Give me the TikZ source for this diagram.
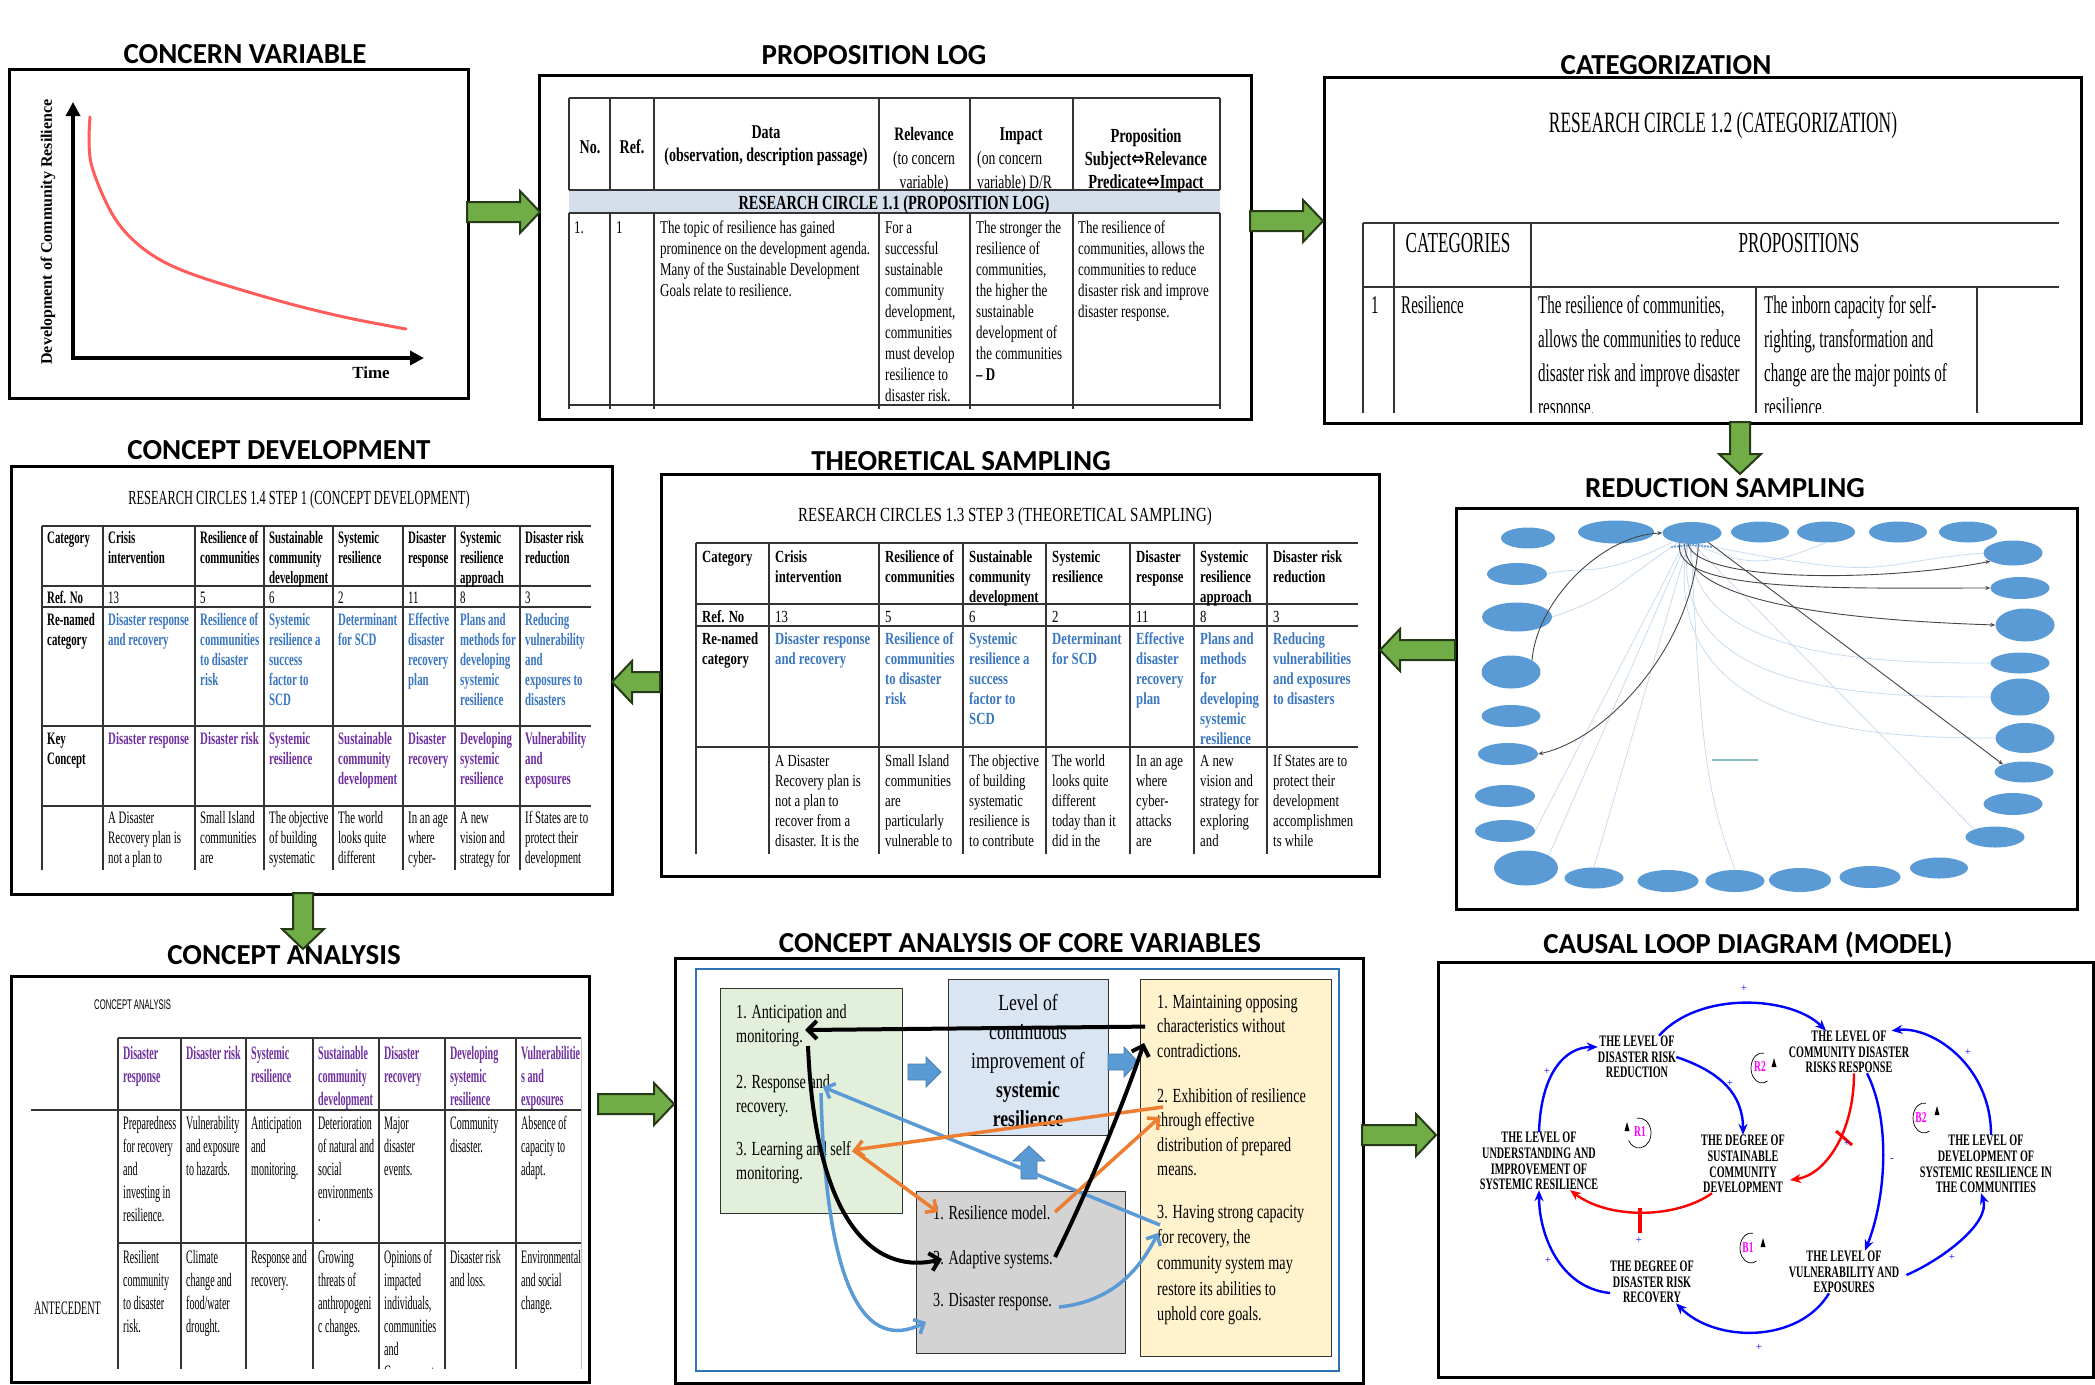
\documentclass[tikz,border=0pt]{standalone}
\usepackage{fontspec}
\usetikzlibrary{arrows.meta,calc,shapes.geometric}
\setmainfont{Liberation Serif}
\newfontfamily\ttlfont{Carlito}
\newfontfamily\srfA[FakeStretch=0.72]{Liberation Serif}
\newfontfamily\srfB[FakeStretch=0.59]{Liberation Serif}
\newfontfamily\srfC[FakeStretch=0.62]{Liberation Serif}
\newfontfamily\srfD[FakeStretch=0.75]{Liberation Serif}
\newfontfamily\srfE[FakeStretch=0.53]{Liberation Serif}
\newfontfamily\srfF[FakeStretch=0.71]{Liberation Serif}
\newfontfamily\srfFF[FakeStretch=0.77]{Liberation Serif}
\newfontfamily\srfG[FakeStretch=0.635]{Liberation Serif}
\newfontfamily\sanN[FakeStretch=0.55]{Liberation Sans}
\newfontfamily\symfont[FakeStretch=0.8]{DejaVu Sans}

\definecolor{gfill}{HTML}{70AD47}
\definecolor{gline}{HTML}{263A17}
\definecolor{tline}{HTML}{333333}
\definecolor{bannerc}{HTML}{D5DFEC}
\definecolor{rblue}{HTML}{3A77C0}
\definecolor{rpurple}{HTML}{7030A0}
\definecolor{ellc}{HTML}{5B9BD5}
\definecolor{faintc}{HTML}{C9DCEF}
\definecolor{linkc}{HTML}{464646}
\definecolor{tealc}{HTML}{8CBEBE}
\definecolor{curvec}{HTML}{FF5C5C}
\definecolor{bxgreen}{HTML}{E2EFDA}
\definecolor{bxblue}{HTML}{DAE5F4}
\definecolor{bxgray}{HTML}{D3D3D3}
\definecolor{bxyellow}{HTML}{FFF2CC}
\definecolor{oarrow}{HTML}{ED7D31}
\definecolor{larrow}{HTML}{5B9BD5}
\definecolor{innerf}{HTML}{2E74B5}
\definecolor{cldblue}{HTML}{0000FF}
\definecolor{cldred}{HTML}{FF0000}
\definecolor{cldmag}{HTML}{FF00FF}

% one-column stacks of lines, baseline at the first line
\newcommand\mlines[1]{\begin{tabular}[t]{@{}l@{}}#1\end{tabular}}
\newcommand\clines[1]{\begin{tabular}[t]{@{}c@{}}#1\end{tabular}}
% block arrow: style, tail, tip, shaft half width, head half width, head length
\newcommand\blockarrow[6]{%
  \coordinate (bah) at ($(#3)!#6!(#2)$);
  \filldraw[#1] ($(#2)!#4!90:(#3)$) -- ($(bah)!#4!-90:(#2)$) -- ($(bah)!#5!-90:(#2)$) -- (#3)
    -- ($(bah)!#5!90:(#2)$) -- ($(bah)!#4!90:(#2)$) -- ($(#2)!#4!-90:(#3)$) -- cycle;}

\begin{document}
\begin{tikzpicture}[x=1pt,y=-1pt,
  panelbox/.style={draw=black, line width=3pt, anchor=north west, inner sep=0pt},
  ttl/.style={font=\ttlfont\bfseries\fontsize{29}{32}\selectfont, inner sep=0pt},
  garrow/.style={fill=gfill, draw=gline, line width=2pt, line join=miter},
  barrow/.style={fill=larrow, draw=larrow!80!black, line width=0.8pt},
  tbl/.style={draw=tline, line width=1.3pt},
  cell/.style={anchor=base west, inner sep=0pt},
  ccell/.style={anchor=base, inner sep=0pt},
  fA/.style={font=\srfA\fontsize{18}{21}\selectfont},
  fAb/.style={font=\srfA\bfseries\fontsize{19.5}{21}\selectfont},
  fAh/.style={font=\srfA\fontsize{19}{24}\selectfont},
  fB/.style={font=\srfB\fontsize{25.5}{34}\selectfont},
  fBh/.style={font=\srfB\fontsize{29}{34}\selectfont},
  fC/.style={font=\srfC\fontsize{17.5}{20}\selectfont},
  fCb/.style={font=\srfC\bfseries\fontsize{17.5}{20}\selectfont},
  fD/.style={font=\srfD\fontsize{17}{20}\selectfont},
  fDb/.style={font=\srfD\bfseries\fontsize{17}{20}\selectfont},
  fE/.style={font=\srfE\fontsize{19}{23}\selectfont},
  fEb/.style={font=\srfE\bfseries\fontsize{19}{23}\selectfont},
  fF/.style={font=\srfF\fontsize{20}{24.5}\selectfont},
  ell/.style={ellipse, fill=ellc, draw=none, inner sep=0pt},
  faint/.style={draw=faintc, line width=0.8pt},
  rsarr/.style={draw=linkc, line width=0.9pt, -{Stealth[length=5pt,width=4pt]}},
  blk/.style={draw=black, line width=4pt, -{Straight Barb[length=9pt,width=18pt]}},
  org/.style={draw=oarrow, line width=3.5pt, -{Straight Barb[length=8pt,width=16pt]}},
  lbl/.style={draw=larrow, line width=3.5pt, -{Straight Barb[length=8pt,width=16pt]}},
  cldn/.style={align=center, inner sep=0pt, font=\srfG\bfseries\fontsize{16}{15.7}\selectfont},
  clink/.style={draw=cldblue, line width=2.4pt, -{Stealth[length=11pt,width=9pt]}},
  rlink/.style={draw=cldred, line width=2.4pt, -{Stealth[length=11pt,width=9pt]}},
  pls/.style={text=cldblue, inner sep=0pt, font=\fontsize{11}{11}\selectfont},
  loopl/.style={text=cldmag, inner sep=0pt, font=\srfG\bfseries\fontsize{15}{15}\selectfont},
  loopc/.style={draw=black, line width=0.7pt}
]
\useasboundingbox (0,0) rectangle (2095,1384);
\fill[white] (0,0) rectangle (2095,1384);

%================ CONCERN VARIABLE
\node[panelbox, minimum width=459pt, minimum height=329pt] (p1) at (8,68) {};
\node[ttl] (t1) at (245,54) {CONCERN VARIABLE};
\coordinate (ytop) at (73,102);
\coordinate (orig) at (73,358);
\coordinate (xend) at (424,358);
\draw[line width=4pt, {Triangle[length=14pt,width=14pt]}-{Triangle[length=14pt,width=14pt]}] (ytop) -- (orig) -- (xend);
\draw[curvec, line width=3pt, line cap=round] plot[smooth, tension=0.55] coordinates
  {(90,117) (91,163) (114,217) (145,250) (189,273) (276,300) (344,317) (406,329)};
\node[rotate=90, inner sep=0pt, font=\bfseries\fontsize{16}{18}\selectfont] (ylab) at (48,232) {Development of Community Resilience};
\node[inner sep=0pt, font=\bfseries\fontsize{17}{19}\selectfont] (xlab) at (371,373) {Time};

%================ PROPOSITION LOG
\node[panelbox, minimum width=712pt, minimum height=344pt] (p2) at (538,74) {};
\node[ttl] (t2) at (874,55) {PROPOSITION LOG};
\fill[bannerc] (569,190) rectangle (1220,213);
\draw[tbl] (569,98) -- (1220,98) (569,190) -- (1220,190) (569,213) -- (1220,213) (569,405) -- (1220,405);
\foreach \x in {569,610,654,879,970,1073,1220} {\draw[tbl] (\x,98) -- (\x,190) (\x,213) -- (\x,409);}
\node[ccell,fAb] (h21) at (590,153) {No.};
\node[ccell,fAb] (h22) at (632,153) {Ref.};
\node[ccell,fAb] (h23) at (766,138) {Data};
\node[ccell,fAb] (h23b) at (766,161) {(observation, description passage)};
\node[ccell,fAh] (h24) at (924,140) {\clines{\textbf{Relevance}\\(to concern\\variable)}};
\node[ccell,fAb] (h25) at (1021,140) {Impact};
\node[cell,fAh] (h25b) at (977,164) {\mlines{(on concern\\variable) D/R}};
\node[ccell,font=\srfA\bfseries\fontsize{20}{23}\selectfont] (h26) at (1146,142)
  {\clines{Proposition\\Subject{\symfont ⇔}Relevance\\Predicate{\symfont ⇔}Impact}};
\node[ccell,font=\srfA\bfseries\fontsize{20}{22}\selectfont] (ban) at (894,209) {RESEARCH CIRCLE 1.1 (PROPOSITION LOG)};
\node[cell,fA] (d21) at (574,233) {1.};
\node[cell,fA] (d22) at (616,233) {1};
\node[cell,fA] (d23) at (660,233) {\mlines{The topic of resilience has gained\\prominence on the development agenda.\\Many of the Sustainable Development\\Goals relate to resilience.}};
\node[cell,fA] (d24) at (885,233) {\mlines{For a\\successful\\sustainable\\community\\development,\\communities\\must develop\\resilience to\\disaster risk.}};
\node[cell,fA] (d25) at (976,233) {\mlines{The stronger the\\resilience of\\communities,\\the higher the\\sustainable\\development of\\the communities\\\textbf{– D}}};
\node[cell,fA] (d26) at (1078,233) {\mlines{The resilience of\\communities, allows the\\communities to reduce\\disaster risk and improve\\disaster response.}};

%================ CATEGORIZATION
\node[panelbox, minimum width=757pt, minimum height=346pt] (p3) at (1323,76) {};
\node[ttl] (t3) at (1666,65) {CATEGORIZATION};
\node[ccell,font=\srfB\fontsize{29.5}{32}\selectfont] (h31) at (1723,132) {RESEARCH CIRCLE 1.2 (CATEGORIZATION)};
\begin{scope}
\clip (1330,200) rectangle (2075,412);
\draw[tbl] (1363,223) -- (2059,223) (1363,287) -- (2059,287);
\draw[tbl] (1363,223) -- (1363,420) (1394,223) -- (1394,420) (1531,223) -- (1531,420)
  (1756,287) -- (1756,420) (1977,287) -- (1977,420);
\node[ccell,fBh] (h32) at (1458,252) {CATEGORIES};
\node[ccell,fBh] (h33) at (1799,252) {PROPOSITIONS};
\node[cell,fB] (d31) at (1371,313) {1};
\node[cell,fB] (d32) at (1401,313) {Resilience};
\node[cell,fB] (d33) at (1538,313) {\mlines{The resilience of communities,\\allows the communities to reduce\\disaster risk and improve disaster\\response.}};
\node[cell,fB] (d34) at (1764,313) {\mlines{The inborn capacity for self-\\righting, transformation and\\change are the major points of\\resilience.}};
\end{scope}

%================ REDUCTION SAMPLING
\node[panelbox, minimum width=621pt, minimum height=401pt] (p6) at (1455,507) {};
\node[ttl] (t6) at (1725,488) {REDUCTION SAMPLING};
\node[ell, minimum width=54pt, minimum height=21pt] (e1) at (1528,538) {};
\node[ell, minimum width=76pt, minimum height=23pt] (e2) at (1616,532) {};
\node[ell, minimum width=59pt, minimum height=22pt] (e3) at (1692,533) {};
\node[ell, minimum width=58pt, minimum height=21pt] (e4) at (1760,532) {};
\node[ell, minimum width=58pt, minimum height=21pt] (e5) at (1826,532) {};
\node[ell, minimum width=58pt, minimum height=21pt] (e6) at (1898,532) {};
\node[ell, minimum width=58pt, minimum height=21pt] (e7) at (1968,532) {};
\node[ell, minimum width=59pt, minimum height=25pt] (e8) at (2013,553) {};
\node[ell, minimum width=59pt, minimum height=22pt] (e9) at (2020,588) {};
\node[ell, minimum width=59pt, minimum height=33pt] (e10) at (2025,625) {};
\node[ell, minimum width=59pt, minimum height=21pt] (e11) at (2020,663) {};
\node[ell, minimum width=59pt, minimum height=37pt] (e12) at (2020,697) {};
\node[ell, minimum width=59pt, minimum height=30pt] (e13) at (2025,738) {};
\node[ell, minimum width=59pt, minimum height=21pt] (e14) at (2024,772) {};
\node[ell, minimum width=59pt, minimum height=22pt] (e15) at (2013,804) {};
\node[ell, minimum width=59pt, minimum height=21pt] (e16) at (1995,837) {};
\node[ell, minimum width=58pt, minimum height=21pt] (e17) at (1939,868) {};
\node[ell, minimum width=61pt, minimum height=22pt] (e18) at (1870,877) {};
\node[ell, minimum width=62pt, minimum height=24pt] (e19) at (1800,880) {};
\node[ell, minimum width=59pt, minimum height=22pt] (e20) at (1735,881) {};
\node[ell, minimum width=61pt, minimum height=22pt] (e21) at (1668,881) {};
\node[ell, minimum width=59pt, minimum height=21pt] (e22) at (1594,878) {};
\node[ell, minimum width=64pt, minimum height=35pt] (e23) at (1526,868) {};
\node[ell, minimum width=60pt, minimum height=22pt] (e24) at (1505,831) {};
\node[ell, minimum width=60pt, minimum height=22pt] (e25) at (1505,796) {};
\node[ell, minimum width=60pt, minimum height=22pt] (e26) at (1508,754) {};
\node[ell, minimum width=59pt, minimum height=22pt] (e27) at (1511,716) {};
\node[ell, minimum width=59pt, minimum height=33pt] (e28) at (1511,672) {};
\node[ell, minimum width=70pt, minimum height=29pt] (e29) at (1517,617) {};
\node[ell, minimum width=60pt, minimum height=22pt] (e30) at (1517,574) {};
\draw[faint] (e3.260) .. controls +(0,120) and +(-90,0) .. (e11.west);
\draw[faint] (e3.250) .. controls +(-20,150) and +(-120,0) .. (e12.west);
\draw[faint] (e3.245) .. controls +(-30,190) and +(-110,0) .. (e13.west);
\draw[faint] (e3.275) -- (e16.north west);
\draw[faint] (e3.240) -- (e23.north east);
\draw[faint] (e3.250) -- (e22.north);
\draw[faint] (e3.232) -- (e24.east);
\draw[faint] (e3.205) .. controls +(-80,40) and +(40,-10) .. (e30.east);
\draw[faint] (e3.215) .. controls +(-60,40) and +(60,-20) .. (e29.east);
\draw[faint] (e3.290) .. controls +(60,30) and +(-40,15) .. (e5.south);
\draw[faint] (e3.300) .. controls +(200,40) and +(-120,10) .. (e8.west);
\draw[faint] (e3.265) .. controls +(10,200) and +(-30,-80) .. (e20.north);
\draw[rsarr, {Stealth[length=5pt,width=4pt]}-] (e3.west) .. controls +(-60,2) and +(5,-60) .. (e28.north east);
\draw[rsarr] (e3.300) .. controls +(-5,100) and +(70,-15) .. (e26.east);
\draw[rsarr] (e3.250) .. controls +(10,40) and +(-100,20) .. (e8.200);
\draw[rsarr] (e3.220) .. controls +(-10,50) and +(-150,0) .. (e9.west);
\draw[rsarr] (e3.235) .. controls +(0,60) and +(-150,-5) .. (e10.west);
\draw[rsarr] (e3.330) -- (e14.north west);
\foreach \i in {0,...,13} {\fill[ellc] ({1672+\i*3},{545+0.3*abs(\i-6.5)}) circle (1.2pt);}
\draw[draw=tealc, line width=2pt] (1712,760) -- (1758,760);

%================ THEORETICAL SAMPLING
\node[panelbox, minimum width=718pt, minimum height=402pt] (p5) at (660,473) {};
\node[ttl] (t5) at (961,461) {THEORETICAL SAMPLING};
\node[ccell,font=\srfD\fontsize{20}{22}\selectfont] (h51) at (1005,521) {RESEARCH CIRCLES 1.3 STEP 3 (THEORETICAL SAMPLING)};
\begin{scope}
\clip (670,530) rectangle (1370,853);
\draw[tbl] (696,543) -- (1358,543) (696,604) -- (1358,604) (696,626) -- (1358,626) (696,747) -- (1358,747);
\foreach \x in {696,769,879,963,1046,1130,1194,1267} {\draw[tbl] (\x,543) -- (\x,860);}
\node[cell,fDb] at (702,562) {Category};
\node[cell,fDb] at (775,562) {\mlines{Crisis\\intervention}};
\node[cell,fDb] at (885,562) {\mlines{Resilience of\\communities}};
\node[cell,fDb] at (969,562) {\mlines{Sustainable\\community\\development}};
\node[cell,fDb] at (1052,562) {\mlines{Systemic\\resilience}};
\node[cell,fDb] at (1136,562) {\mlines{Disaster\\response}};
\node[cell,fDb] at (1200,562) {\mlines{Systemic\\resilience\\approach}};
\node[cell,fDb] at (1273,562) {\mlines{Disaster risk\\reduction}};
\node[cell,fDb] at (702,622) {Ref. No};
\node[cell,fD] at (775,622) {13};
\node[cell,fD] at (885,622) {5};
\node[cell,fD] at (969,622) {6};
\node[cell,fD] at (1052,622) {2};
\node[cell,fD] at (1136,622) {11};
\node[cell,fD] at (1200,622) {8};
\node[cell,fD] at (1273,622) {3};
\node[cell,fDb] at (702,644) {\mlines{Re-named\\category}};
\begin{scope}[every node/.append style={text=rblue}]
\node[cell,fDb] at (775,644) {\mlines{Disaster response\\and recovery}};
\node[cell,fDb] at (885,644) {\mlines{Resilience of\\communities\\to disaster\\risk}};
\node[cell,fDb] at (969,644) {\mlines{Systemic\\resilience a\\success\\factor to\\SCD}};
\node[cell,fDb] at (1052,644) {\mlines{Determinant\\for SCD}};
\node[cell,fDb] at (1136,644) {\mlines{Effective\\disaster\\recovery\\plan}};
\node[cell,fDb] at (1200,644) {\mlines{Plans and\\methods\\for\\developing\\systemic\\resilience}};
\node[cell,fDb] at (1273,644) {\mlines{Reducing\\vulnerabilities\\and exposures\\to disasters}};
\end{scope}
\node[cell,fD] at (775,766) {\mlines{A Disaster\\Recovery plan is\\not a plan to\\recover from a\\disaster. It is the\\plan that allows}};
\node[cell,fD] at (885,766) {\mlines{Small Island\\communities\\are\\particularly\\vulnerable to\\the impacts of}};
\node[cell,fD] at (969,766) {\mlines{The objective\\of building\\systematic\\resilience is\\to contribute\\to the long}};
\node[cell,fD] at (1052,766) {\mlines{The world\\looks quite\\different\\today than it\\did in the\\recent past}};
\node[cell,fD] at (1136,766) {\mlines{In an age\\where\\cyber-\\attacks\\are\\rapidly}};
\node[cell,fD] at (1200,766) {\mlines{A new\\vision and\\strategy for\\exploring\\and\\developing}};
\node[cell,fD] at (1273,766) {\mlines{If States are to\\protect their\\development\\accomplishmen\\ts while\\moving ahead}};
\end{scope}

%================ CONCEPT DEVELOPMENT
\node[panelbox, minimum width=601pt, minimum height=428pt] (p4) at (10,465) {};
\node[ttl] (t4) at (279,450) {CONCEPT DEVELOPMENT};
\node[ccell,font=\srfC\fontsize{20}{22}\selectfont] (h41) at (299,504) {RESEARCH CIRCLES 1.4 STEP 1 (CONCEPT DEVELOPMENT)};
\begin{scope}
\clip (20,515) rectangle (605,869);
\draw[tbl] (42,526) -- (591,526) (42,586) -- (591,586) (42,607) -- (591,607) (42,726) -- (591,726) (42,806) -- (591,806);
\foreach \x in {42,103,195,264,333,403,455,520} {\draw[tbl] (\x,526) -- (\x,875);}
\node[cell,fCb] at (47,543) {Category};
\node[cell,fCb] at (108,543) {\mlines{Crisis\\intervention}};
\node[cell,fCb] at (200,543) {\mlines{Resilience of\\communities}};
\node[cell,fCb] at (269,543) {\mlines{Sustainable\\community\\development}};
\node[cell,fCb] at (338,543) {\mlines{Systemic\\resilience}};
\node[cell,fCb] at (408,543) {\mlines{Disaster\\response}};
\node[cell,fCb] at (460,543) {\mlines{Systemic\\resilience\\approach}};
\node[cell,fCb] at (525,543) {\mlines{Disaster risk\\reduction}};
\node[cell,fCb] at (47,603) {Ref. No};
\node[cell,fC] at (108,603) {13};
\node[cell,fC] at (200,603) {5};
\node[cell,fC] at (269,603) {6};
\node[cell,fC] at (338,603) {2};
\node[cell,fC] at (408,603) {11};
\node[cell,fC] at (460,603) {8};
\node[cell,fC] at (525,603) {3};
\node[cell,fCb] at (47,625) {\mlines{Re-named\\category}};
\begin{scope}[every node/.append style={text=rblue}]
\node[cell,fCb] at (108,625) {\mlines{Disaster response\\and recovery}};
\node[cell,fCb] at (200,625) {\mlines{Resilience of\\communities\\to disaster\\risk}};
\node[cell,fCb] at (269,625) {\mlines{Systemic\\resilience a\\success\\factor to\\SCD}};
\node[cell,fCb] at (338,625) {\mlines{Determinant\\for SCD}};
\node[cell,fCb] at (408,625) {\mlines{Effective\\disaster\\recovery\\plan}};
\node[cell,fCb] at (460,625) {\mlines{Plans and\\methods for\\developing\\systemic\\resilience}};
\node[cell,fCb] at (525,625) {\mlines{Reducing\\vulnerability\\and\\exposures to\\disasters}};
\end{scope}
\node[cell,fCb] at (47,744) {\mlines{Key\\Concept}};
\begin{scope}[every node/.append style={text=rpurple}]
\node[cell,fCb] at (108,744) {Disaster response};
\node[cell,fCb] at (200,744) {Disaster risk};
\node[cell,fCb] at (269,744) {\mlines{Systemic\\resilience}};
\node[cell,fCb] at (338,744) {\mlines{Sustainable\\community\\development}};
\node[cell,fCb] at (408,744) {\mlines{Disaster\\recovery}};
\node[cell,fCb] at (460,744) {\mlines{Developing\\systemic\\resilience}};
\node[cell,fCb] at (525,744) {\mlines{Vulnerability\\and\\exposures}};
\end{scope}
\node[cell,fC] at (108,823) {\mlines{A Disaster\\Recovery plan is\\not a plan to\\recover}};
\node[cell,fC] at (200,823) {\mlines{Small Island\\communities\\are\\particularly}};
\node[cell,fC] at (269,823) {\mlines{The objective\\of building\\systematic\\resilience}};
\node[cell,fC] at (338,823) {\mlines{The world\\looks quite\\different\\today}};
\node[cell,fC] at (408,823) {\mlines{In an age\\where\\cyber-\\attacks}};
\node[cell,fC] at (460,823) {\mlines{A new\\vision and\\strategy for\\exploring}};
\node[cell,fC] at (525,823) {\mlines{If States are to\\protect their\\development\\accomplish}};
\end{scope}

%================ CONCEPT ANALYSIS
\node[panelbox, minimum width=578pt, minimum height=406pt] (p7) at (10,975) {};
\node[ttl] (t7) at (284,955) {CONCEPT ANALYSIS};
\node[anchor=west, inner sep=0pt, font=\sanN\fontsize{14}{16}\selectfont] (h71) at (94,1005) {CONCEPT ANALYSIS};
\begin{scope}
\clip (20,1030) rectangle (585,1368);
\draw[tbl] (118,1038) -- (581,1038) (31,1110) -- (581,1110) (118,1243) -- (581,1243);
\foreach \x in {118,181,246,313,379,445,516} {\draw[tbl] (\x,1038) -- (\x,1375);}
\draw[draw=black!25, line width=1pt] (581,1038) -- (581,1375);
\begin{scope}[every node/.append style={text=rpurple}]
\node[cell,fEb] at (123,1059) {\mlines{Disaster\\response}};
\node[cell,fEb] at (186,1059) {Disaster risk};
\node[cell,fEb] at (251,1059) {\mlines{Systemic\\resilience}};
\node[cell,fEb] at (318,1059) {\mlines{Sustainable\\community\\development}};
\node[cell,fEb] at (384,1059) {\mlines{Disaster\\recovery}};
\node[cell,fEb] at (450,1059) {\mlines{Developing\\systemic\\resilience}};
\node[cell,fEb] at (521,1059) {\mlines{Vulnerabilitie\\s and\\exposures}};
\end{scope}
\node[cell,fE] at (123,1129) {\mlines{Preparedness\\for recovery\\and\\investing in\\resilience.}};
\node[cell,fE] at (186,1129) {\mlines{Vulnerability\\and exposure\\to hazards.}};
\node[cell,fE] at (251,1129) {\mlines{Anticipation\\and\\monitoring.}};
\node[cell,fE] at (318,1129) {\mlines{Deterioration\\of natural and\\social\\environments\\.}};
\node[cell,fE] at (384,1129) {\mlines{Major\\disaster\\events.}};
\node[cell,fE] at (450,1129) {\mlines{Community\\disaster.}};
\node[cell,fE] at (521,1129) {\mlines{Absence of\\capacity to\\adapt.}};
\node[cell,fE] at (123,1263) {\mlines{Resilient\\community\\to disaster\\risk.}};
\node[cell,fE] at (186,1263) {\mlines{Climate\\change and\\food/water\\drought.}};
\node[cell,fE] at (251,1263) {\mlines{Response and\\recovery.}};
\node[cell,fE] at (318,1263) {\mlines{Growing\\threats of\\anthropogeni\\c changes.}};
\node[cell,fE] at (384,1263) {\mlines{Opinions of\\impacted\\individuals,\\communities\\and\\Government}};
\node[cell,fE] at (450,1263) {\mlines{Disaster risk\\and loss.}};
\node[cell,fE] at (521,1263) {\mlines{Environmental\\and social\\change.}};
\node[cell,fE] at (34,1314) {ANTECEDENT};
\end{scope}

%================ CONCEPT ANALYSIS OF CORE VARIABLES
\node[panelbox, minimum width=688pt, minimum height=425pt] (p8) at (674,957) {};
\node[ttl] (t8) at (1020,943) {CONCEPT ANALYSIS OF CORE VARIABLES};
\draw[innerf, line width=2.5pt] (696,969) rectangle (1339,1371);
\node[anchor=north west, draw=black!80, line width=1pt, fill=bxgreen, minimum width=182pt, minimum height=225pt] (gb) at (720,988) {};
\node[anchor=north west, draw=black!80, line width=1pt, fill=bxblue, minimum width=160pt, minimum height=156pt] (bb) at (948,979) {};
\node[anchor=north west, draw=black!80, line width=1pt, fill=bxgray, minimum width=209pt, minimum height=162pt] (rb) at (916,1191) {};
\node[anchor=north west, draw=black!80, line width=1pt, fill=bxyellow, minimum width=191pt, minimum height=377pt] (yb) at (1140,979) {};
\node[cell,fF] (gt1) at (736,1018) {\mlines{1. Anticipation and\\monitoring.}};
\node[cell,fF] (gt2) at (736,1088) {\mlines{2. Response and\\recovery.}};
\node[cell,fF] (gt3) at (736,1155) {\mlines{3. Learning and self\\monitoring.}};
\node[ccell,font=\srfFF\fontsize{23}{29}\selectfont] (bt) at (1028,1010) {\clines{Level of\\continuous\\improvement of\\\textbf{systemic}\\\textbf{resilience}}};
\node[cell,fF] (yt1) at (1157,1008) {\mlines{1. Maintaining opposing\\characteristics without\\contradictions.}};
\node[cell,fF] (yt2) at (1157,1102) {\mlines{2. Exhibition of resilience\\through effective\\distribution of prepared\\means.}};
\node[cell,font=\srfF\fontsize{20}{25.7}\selectfont] (yt3) at (1157,1218) {\mlines{3. Having strong capacity\\for recovery, the\\community system may\\restore its abilities to\\uphold core goals.}};
\node[cell,fF] (rt1) at (933,1219) {1. Resilience model.};
\node[cell,fF] (rt2) at (933,1264) {2. Adaptive systems.};
\node[cell,fF] (rt3) at (933,1306) {3. Disaster response.};
% block arrows between the boxes
\coordinate (ba1s) at (908,1072); \coordinate (ba1e) at (941,1072);
\coordinate (ba2s) at (1108,1062); \coordinate (ba2e) at (1138,1062);
\coordinate (ba3s) at (1029,1179); \coordinate (ba3e) at (1029,1146);
\blockarrow{barrow}{ba1s}{ba1e}{8pt}{15pt}{15pt}
\blockarrow{barrow}{ba2s}{ba2e}{8pt}{15pt}{14pt}
\blockarrow{barrow}{ba3s}{ba3e}{8pt}{16pt}{15pt}
% links between the listed items
\coordinate (k1s) at ($(yt1.west)+(-12,-1)$);
\coordinate (k1e) at (805,1030);
\coordinate (k2s) at (808,1046);
\coordinate (k2e) at (942,1259);
\coordinate (k3s) at (1055,1257);
\coordinate (k3e) at (1144,1043);
\coordinate (o1s) at (1163,1107);
\coordinate (o1e) at (853,1150);
\coordinate (o2e) at (938,1212);
\coordinate (o3s) at (1055,1212);
\coordinate (o3e) at (1160,1117);
\coordinate (b1s) at (1160,1225);
\coordinate (b1e) at (823,1087);
\coordinate (b2s) at (821,1093);
\coordinate (b2e) at (926,1322);
\coordinate (b3s) at (1059,1307);
\coordinate (b3e) at (1158,1233);
\draw[lbl] (b1s) -- (b1e);
\draw[lbl] (b2s) .. controls +(5,200) and +(-60,30) .. (b2e);
\draw[lbl] (b3s) .. controls +(50,-5) and +(-20,40) .. (b3e);
\draw[org] (o1s) -- (o1e);
\draw[org] (o1e) -- (o2e);
\draw[org] (o3s) -- (o3e);
\draw[blk] (k1s) -- (k1e);
\draw[blk] (k2s) .. controls +(8,190) and +(-60,15) .. (k2e);
\draw[blk] (k3s) .. controls +(30,-60) and +(-20,60) .. (k3e);

%================ CAUSAL LOOP DIAGRAM
\node[panelbox, minimum width=655pt, minimum height=415pt] (p9) at (1437,961) {};
\node[ttl] (t9) at (1748,945) {CAUSAL LOOP DIAGRAM (MODEL)};
\node[cldn] (n1) at (1637,1057) {THE LEVEL OF\\DISASTER RISK\\REDUCTION};
\node[cldn] (n2) at (1849,1052) {THE LEVEL OF\\COMMUNITY DISASTER\\RISKS RESPONSE};
\node[cldn] (n3) at (1539,1161) {THE LEVEL OF\\UNDERSTANDING AND\\IMPROVEMENT OF\\SYSTEMIC RESILIENCE};
\node[cldn] (n4) at (1743,1164) {THE DEGREE OF\\SUSTAINABLE\\COMMUNITY\\DEVELOPMENT};
\node[cldn] (n5) at (1986,1164) {THE LEVEL OF\\DEVELOPMENT OF\\SYSTEMIC RESILIENCE IN\\THE COMMUNITIES};
\node[cldn] (n6) at (1652,1282) {THE DEGREE OF\\DISASTER RISK\\RECOVERY};
\node[cldn] (n7) at (1844,1272) {THE LEVEL OF\\VULNERABILITY AND\\EXPOSURES};
\draw[clink] (n3.north) .. controls +(2,-60) and +(-32,0) .. ([yshift=10pt]n1.west);
\draw[clink] ([xshift=22pt]n1.north) .. controls +(40,-45) and +(-35,-35) .. ([xshift=-23pt]n2.north);
\draw[clink] (n1.east) .. controls +(45,15) and +(0,-40) .. (n4.north);
\draw[rlink] ([xshift=5pt]n2.south) .. controls +(0,60) and +(35,-5) .. ([xshift=5pt,yshift=-16pt]n4.east);
\draw[rlink] ([xshift=-31pt]n4.south) .. controls +(-35,25) and +(40,30) .. ([xshift=31pt]n3.south);
\draw[clink] ([xshift=18pt]n2.south) .. controls +(25,50) and +(20,-50) .. ([xshift=21pt]n7.north);
\draw[clink] ([xshift=-15pt]n7.south) .. controls +(-30,50) and +(40,40) .. ([xshift=24pt]n6.south);
\draw[clink] ([yshift=-11pt]n6.west) .. controls +(-50,-5) and +(0,45) .. (n3.south);
\draw[clink] ([xshift=7pt,yshift=-3pt]n7.east) .. controls +(35,-15) and +(10,30) .. ([xshift=-5pt]n5.south);
\draw[clink] ([xshift=5pt]n5.north) .. controls +(0,-70) and +(40,-5) .. ([xshift=-18pt]n2.north east);
% delay marks
\draw[cldred, line width=3pt] (1836,1131) -- (1852,1145);
\draw[cldred, line width=4pt] (1640,1208) -- (1640,1233);
% polarities
\node[pls] at (1547,1071) {+};
\node[pls] at (1744,988) {+};
\node[pls] at (1730,1083) {+};
\node[pls] at (1968,1052) {+};
\node[pls] at (1548,1260) {+};
\node[pls] at (1759,1347) {+};
\node[pls] at (1952,1257) {+};
\node[pls] at (1639,1240) {+};
\node[pls] at (1847,1143) {+};
\node[pls] at (1892,1160) {-};
% loop identifiers
\node[loopl] (lr1) at (1640,1132) {R1};
\draw[loopc] (1639,1133) ++(-100:12 and 15) arc[start angle=-100, end angle=150, x radius=12, y radius=15];
\fill (1627,1122) -- (1624.5,1131) -- (1629.5,1131) -- cycle;
\node[loopl] (lr2) at (1760,1067) {R2};
\draw[loopc] (1762,1068) ++(-80:11 and 15) arc[start angle=-80, end angle=-300, x radius=11, y radius=15];
\fill (1774,1058) -- (1771.5,1067) -- (1776.5,1067) -- cycle;
\node[loopl] (lb1) at (1748,1248) {B1};
\draw[loopc] (1751,1248) ++(-80:11 and 15) arc[start angle=-80, end angle=-300, x radius=11, y radius=15];
\fill (1763,1238) -- (1760.5,1247) -- (1765.5,1247) -- cycle;
\node[loopl] (lb2) at (1921,1118) {B2};
\draw[loopc] (1924,1118) ++(-80:11 and 15) arc[start angle=-80, end angle=-300, x radius=11, y radius=15];
\fill (1937,1106) -- (1934.5,1115) -- (1939.5,1115) -- cycle;

%================ FLOW BETWEEN THE STAGES
\coordinate (a1s) at (467,212); \coordinate (a1e) at (540,212);
\coordinate (a2s) at (1250,221); \coordinate (a2e) at (1323,221);
\coordinate (a3s) at (1740,422); \coordinate (a3e) at (1740,474);
\coordinate (a4s) at (1455,650); \coordinate (a4e) at (1380,650);
\coordinate (a5s) at (660,682); \coordinate (a5e) at (612,682);
\coordinate (a6s) at (303,893); \coordinate (a6e) at (303,949);
\coordinate (a7s) at (598,1104); \coordinate (a7e) at (674,1104);
\coordinate (a8s) at (1362,1135); \coordinate (a8e) at (1436,1135);
\blockarrow{garrow}{a1s}{a1e}{10pt}{21pt}{20pt}
\blockarrow{garrow}{a2s}{a2e}{10pt}{21pt}{20pt}
\blockarrow{garrow}{a3s}{a3e}{10pt}{21pt}{20pt}
\blockarrow{garrow}{a4s}{a4e}{10pt}{21pt}{20pt}
\blockarrow{garrow}{a5s}{a5e}{10pt}{21pt}{20pt}
\blockarrow{garrow}{a6s}{a6e}{10pt}{21pt}{20pt}
\blockarrow{garrow}{a7s}{a7e}{10pt}{21pt}{20pt}
\blockarrow{garrow}{a8s}{a8e}{10pt}{21pt}{20pt}
\end{tikzpicture}
\end{document}
